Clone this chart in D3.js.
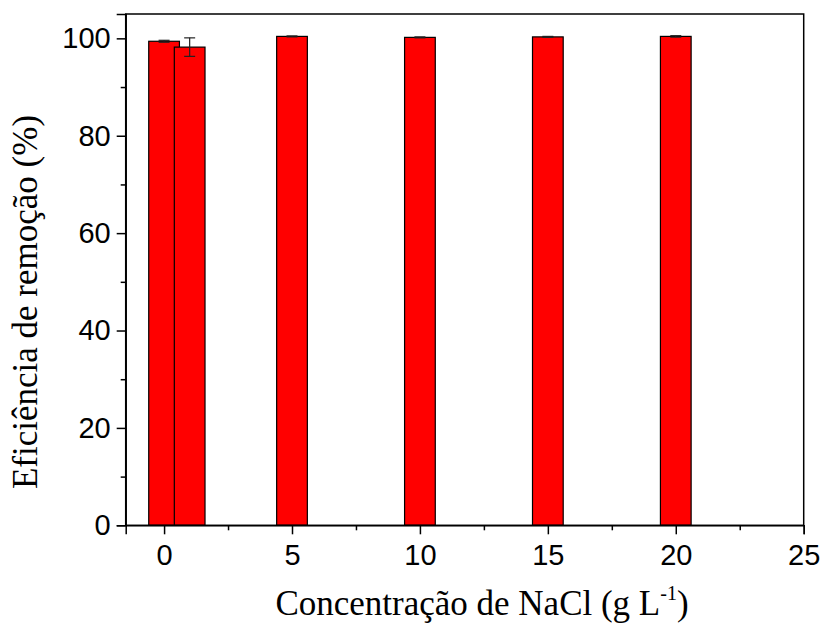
<!DOCTYPE html>
<html><head><meta charset="utf-8">
<script src="https://cdn.jsdelivr.net/npm/d3@7"></script>
<style>body{margin:0;background:#fff}svg{display:block}</style>
</head><body>
<svg id="c" width="823" height="632"></svg>
<script>
const concentrations = [0, 1, 5, 10, 15, 20];
const efficiency = [99.4, 98.2, 100.4, 100.2, 100.3, 100.4];
const errors = [0.2, 1.9, 0.1, 0.1, 0.1, 0.15];
const xTicks = [0, 5, 10, 15, 20, 25];
const xMinorTicks = [2.5, 7.5, 12.5, 17.5, 22.5];
const yTicks = [0, 20, 40, 60, 80, 100];
const yMinorTicks = [10, 30, 50, 70, 90];

const svg = d3.select("#c");
const L = 125.7, R = 803.7, T = 14, B = 525.3;
const x = d3.scaleLinear().domain([-1.5, 25]).range([L, R]);
const y = d3.scaleLinear().domain([0, 105]).range([B, T]);
const barW = x(1.2) - x(0);

// bars
const g = svg.append("g");
concentrations.forEach((c, i) => {
  g.append("rect")
    .attr("x", x(c) - barW / 2)
    .attr("y", y(efficiency[i]))
    .attr("width", barW)
    .attr("height", y(0) - y(efficiency[i]))
    .attr("fill", "#ff0000")
    .attr("stroke", "#000")
    .attr("stroke-width", 1.2);
  const cx = x(c), capW = 5.5;
  const y1 = y(efficiency[i] + errors[i]), y2 = y(efficiency[i] - errors[i]);
  const eg = g.append("g").attr("stroke", "#222").attr("stroke-width", 1.2);
  eg.append("line").attr("x1", cx).attr("x2", cx).attr("y1", y1).attr("y2", y2);
  eg.append("line").attr("x1", cx - capW).attr("x2", cx + capW).attr("y1", y1).attr("y2", y1);
  eg.append("line").attr("x1", cx - capW).attr("x2", cx + capW).attr("y1", y2).attr("y2", y2);
});

// frame
svg.append("rect").attr("x", L).attr("y", T).attr("width", R - L).attr("height", B - T)
  .attr("fill", "none").attr("stroke", "#000").attr("stroke-width", 1.5);

// axes
svg.append("g").attr("transform", `translate(0,${B})`)
  .call(d3.axisBottom(x).tickValues(xTicks).tickSize(9).tickPadding(10).tickFormat(d3.format("d")));
svg.append("g").attr("transform", `translate(0,${B})`)
  .call(d3.axisBottom(x).tickValues(xMinorTicks).tickSize(5).tickFormat(""))
  .call(s => s.select(".domain").remove());
svg.append("g").attr("transform", `translate(${L},0)`)
  .call(d3.axisLeft(y).tickValues(yTicks).tickSize(9).tickPadding(6).tickFormat(d3.format("d")));
svg.append("g").attr("transform", `translate(${L},0)`)
  .call(d3.axisLeft(y).tickValues(yMinorTicks).tickSize(5).tickFormat(""))
  .call(s => s.select(".domain").remove());

svg.selectAll(".tick line").attr("stroke", "#000").attr("stroke-width", 1.5);
svg.selectAll(".domain").attr("stroke", "#000").attr("stroke-width", 1.5);
svg.selectAll(".tick text").style("font-family", "'Liberation Sans', Arial, sans-serif")
  .style("font-size", "29px").attr("fill", "#000");

// titles
const xt = svg.append("text").attr("x", 482).attr("y", 615).attr("text-anchor", "middle")
  .style("font-family", "'Liberation Serif', 'Times New Roman', serif").style("font-size", "35px").attr("fill", "#000");
xt.append("tspan").text("Concentração de NaCl (g L");
xt.append("tspan").style("font-size", "20px").attr("dy", -15).text("-1");
xt.append("tspan").attr("dy", 15).text(")");

svg.append("text").attr("transform", "translate(37,302) rotate(-90)").attr("text-anchor", "middle")
  .style("font-family", "'Liberation Serif', 'Times New Roman', serif").style("font-size", "35px").attr("fill", "#000")
  .text("Eficiência de remoção (%)");
</script>
</body></html>
